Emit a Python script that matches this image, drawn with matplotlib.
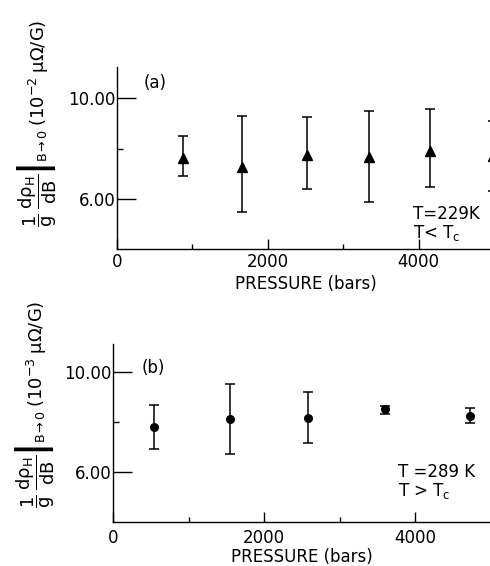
import matplotlib
matplotlib.use("Agg")
import matplotlib.pyplot as plt
import numpy as np

# Panel (a) data: T = 229 K
pa_pressure = [883, 1658, 2522, 3346, 4154, 4980]
pa_value = [7.62, 7.28, 7.75, 7.66, 7.91, 7.70]
pa_low = [6.91, 5.47, 6.40, 5.89, 6.45, 6.29]
pa_high = [8.49, 9.30, 9.27, 9.50, 9.59, 9.11]

# Panel (b) data: T = 289 K
pb_pressure = [538, 1544, 2581, 3595, 4720]
pb_value = [7.80, 8.11, 8.15, 8.49, 8.21]
pb_low = [6.89, 6.69, 7.13, 8.32, 7.96]
pb_high = [8.67, 9.51, 9.20, 8.61, 8.55]

x_major = [0, 2000, 4000]
x_major_labels = ["0", "2000", "4000"]
x_minor = [1000, 3000, 5000]
y_major = [6, 10]
y_major_labels = ["6.00", "10.00"]
y_minor = [8]

W, H = 490, 566
plt.rcParams['font.family'] = ['DejaVu Sans']
plt.rcParams['mathtext.fontset'] = 'stixsans'
plt.rcParams['mathtext.default'] = 'regular'
fig = plt.figure(figsize=(W / 100, H / 100), dpi=100)

def fx(px):
    return px / W

def fy(py):
    return 1 - py / H

def setup(ax, ytop):
    ax.set_xlim(0, 5000)
    ax.set_ylim(4, ytop)
    for s in ['top', 'right']:
        ax.spines[s].set_visible(False)
    for s in ['left', 'bottom']:
        ax.spines[s].set_linewidth(1.0)
    ax.set_xticks(x_major)
    ax.set_xticklabels(x_major_labels)
    ax.set_xticks(x_minor, minor=True)
    ax.set_yticks(y_major)
    ax.set_yticklabels(y_major_labels)
    ax.set_yticks(y_minor, minor=True)
    ax.tick_params(axis='x', which='major', direction='in', length=7.2, width=1.0,
                   labelsize=12, pad=3)
    ax.tick_params(axis='x', which='minor', direction='in', length=3.6, width=1.0)
    ax.tick_params(axis='y', which='major', direction='in', length=13.5, width=1.0,
                   labelsize=12, pad=1)
    ax.tick_params(axis='y', which='minor', direction='in', length=4.3, width=1.0)
    ax.patch.set_alpha(0)

# Panel (a)
axa = fig.add_axes([fx(116.7), fy(249), fx(377.5), 182.3 / H])
setup(axa, 11.26)
va = np.array(pa_value)
axa.errorbar(pa_pressure, pa_value,
             yerr=[va - np.array(pa_low), np.array(pa_high) - va],
             fmt='^', color='black', markersize=7, elinewidth=1.1,
             capsize=3.5, capthick=1.1, clip_on=False)
axa.set_xlabel("PRESSURE (bars)", fontsize=12, labelpad=3)

# Panel (b)
axb = fig.add_axes([fx(113.3), fy(521.7), fx(377.5), 177.3 / H])
setup(axb, 11.09)
axb.tick_params(axis='x', which='major', pad=5)
vb = np.array(pb_value)
axb.errorbar(pb_pressure, pb_value,
             yerr=[vb - np.array(pb_low), np.array(pb_high) - vb],
             fmt='o', color='black', markersize=5.5, elinewidth=1.1,
             capsize=3.5, capthick=1.1, clip_on=False)
axb.set_xlabel("PRESSURE (bars)", fontsize=12, labelpad=1)

# Panel labels and annotations
fig.text(fx(144), fy(83), "(a)", fontsize=12, ha='left', va='center')
fig.text(fx(142), fy(368), "(b)", fontsize=12, ha='left', va='center')
fig.text(fx(413), fy(214), "T=229K", fontsize=12, ha='left', va='center')
fig.text(fx(413), fy(233), r"T< T$_{c}$", fontsize=12, ha='left', va='center')
fig.text(fx(398), fy(472), "T =289 K", fontsize=12, ha='left', va='center')
fig.text(fx(398), fy(491), r"T > T$_{c}$", fontsize=12, ha='left', va='center')

# Y labels
ylab_a = r"$\dfrac{1}{g}\ \left.\dfrac{d\rho_H}{dB}\right|_{B\rightarrow 0}\ (10^{-2}\ \mu\Omega/G)$"
ylab_b = r"$\dfrac{1}{g}\ \left.\dfrac{d\rho_H}{dB}\right|_{B\rightarrow 0}\ (10^{-3}\ \mu\Omega/G)$"
fig.text(fx(36), fy(227), ylab_a, fontsize=13, rotation=90, ha='center', va='bottom')
fig.text(fx(34), fy(508), ylab_b, fontsize=13, rotation=90, ha='center', va='bottom')

fig.savefig("out.png", dpi=100)
